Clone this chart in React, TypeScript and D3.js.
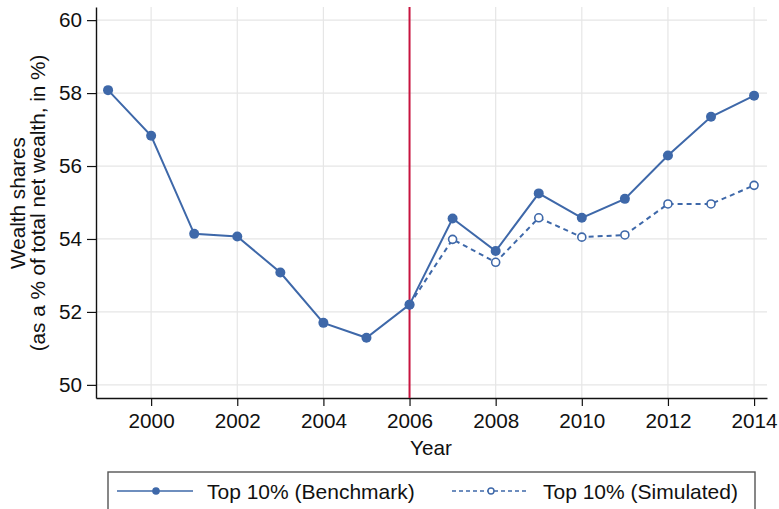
import React, { useEffect, useRef } from 'react';
import * as d3 from 'd3';

const years = [1999, 2000, 2001, 2002, 2003, 2004, 2005, 2006, 2007, 2008, 2009, 2010, 2011, 2012, 2013, 2014];
const benchmark = [58.08, 56.83, 54.14, 54.07, 53.08, 51.7, 51.29, 52.2, 54.56, 53.67, 55.25, 54.58, 55.1, 56.29, 57.35, 57.93];
const simYears = [2006, 2007, 2008, 2009, 2010, 2011, 2012, 2013, 2014];
const simulated = [52.2, 53.99, 53.36, 54.58, 54.05, 54.11, 54.96, 54.96, 55.47];
const xTicks = [2000, 2002, 2004, 2006, 2008, 2010, 2012, 2014];
const yTicks = [50, 52, 54, 56, 58, 60];
const breakYear = 2006;
const legendLabels = ['Top 10% (Benchmark)', 'Top 10% (Simulated)'];

const W = 779;
const H = 509;
const FONT = '"Liberation Sans", Arial, Helvetica, sans-serif';
const FS = 20.7;
const BLUE = '#3e68a9';
const RED = '#c8143f';

const App: React.FC = () => {
  const svgRef = useRef<SVGSVGElement | null>(null);

  useEffect(() => {
    const svg = d3.select(svgRef.current);
    svg.selectAll('*').remove();

    const margin = { top: 7, right: 12, bottom: 111, left: 96 };
    const x = d3.scaleLinear().domain([1998.72, 2014.3]).range([margin.left, W - margin.right]);
    const y = d3.scaleLinear().domain([49.64, 60.36]).range([H - margin.bottom, margin.top]);

    // grid
    const grid = svg.append('g');
    grid
      .selectAll('line.h')
      .data(yTicks)
      .join('line')
      .attr('x1', margin.left)
      .attr('x2', W - margin.right)
      .attr('y1', (d) => y(d))
      .attr('y2', (d) => y(d))
      .attr('stroke', '#e6e6e6')
      .attr('stroke-width', 1.2);
    grid
      .selectAll('line.v')
      .data(xTicks)
      .join('line')
      .attr('x1', (d) => x(d))
      .attr('x2', (d) => x(d))
      .attr('y1', margin.top)
      .attr('y2', H - margin.bottom)
      .attr('stroke', '#e6e6e6')
      .attr('stroke-width', 1.2);

    // axes
    const xAxis = d3.axisBottom(x).tickValues(xTicks).tickFormat(d3.format('d')).tickSize(8).tickSizeOuter(0).tickPadding(7);
    const yAxis = d3.axisLeft(y).tickValues(yTicks).tickSize(9).tickSizeOuter(0).tickPadding(5);

    const gx = svg.append('g').attr('transform', `translate(0, ${H - margin.bottom})`).call(xAxis);
    const gy = svg.append('g').attr('transform', `translate(${margin.left}, 0)`).call(yAxis);
    [gx, gy].forEach((g) => {
      g.selectAll('text').attr('font-family', FONT).attr('font-size', FS).attr('fill', '#111');
      g.selectAll('line').attr('stroke', '#111').attr('stroke-width', 1.2);
      g.select('.domain').attr('stroke', '#111').attr('stroke-width', 1.4);
    });

    // axis titles
    svg
      .append('text')
      .attr('x', 431)
      .attr('y', 455)
      .attr('text-anchor', 'middle')
      .attr('font-family', FONT)
      .attr('font-size', FS)
      .attr('fill', '#111')
      .text('Year');
    const yTitle = svg.append('g').attr('font-family', FONT).attr('font-size', FS).attr('fill', '#111');
    yTitle
      .append('text')
      .attr('transform', 'translate(25, 203) rotate(-90)')
      .attr('text-anchor', 'middle')
      .text('Wealth shares');
    yTitle
      .append('text')
      .attr('transform', 'translate(45, 203) rotate(-90)')
      .attr('text-anchor', 'middle')
      .text('(as a % of total net wealth, in %)');

    // vertical red line
    svg
      .append('line')
      .attr('x1', x(breakYear))
      .attr('x2', x(breakYear))
      .attr('y1', margin.top)
      .attr('y2', H - margin.bottom)
      .attr('stroke', RED)
      .attr('stroke-width', 2);

    // simulated series
    const simLine = d3
      .line<number>()
      .x((d, i) => x(simYears[i]))
      .y((d) => y(d));
    svg
      .append('path')
      .attr('d', simLine(simulated))
      .attr('fill', 'none')
      .attr('stroke', BLUE)
      .attr('stroke-width', 2)
      .attr('stroke-dasharray', '5,4');
    svg
      .selectAll('circle.sim')
      .data(simulated)
      .join('circle')
      .attr('class', 'sim')
      .attr('cx', (d, i) => x(simYears[i]))
      .attr('cy', (d) => y(d))
      .attr('r', 4)
      .attr('fill', 'white')
      .attr('stroke', BLUE)
      .attr('stroke-width', 1.6);

    // benchmark series
    const benchLine = d3
      .line<number>()
      .x((d, i) => x(years[i]))
      .y((d) => y(d));
    svg
      .append('path')
      .attr('d', benchLine(benchmark))
      .attr('fill', 'none')
      .attr('stroke', BLUE)
      .attr('stroke-width', 2);
    svg
      .selectAll('circle.bench')
      .data(benchmark)
      .join('circle')
      .attr('class', 'bench')
      .attr('cx', (d, i) => x(years[i]))
      .attr('cy', (d) => y(d))
      .attr('r', 5)
      .attr('fill', BLUE);

    // legend
    const lg = svg.append('g');
    lg.append('rect')
      .attr('x', 108)
      .attr('y', 472)
      .attr('width', 647)
      .attr('height', 60)
      .attr('fill', 'white')
      .attr('stroke', '#555')
      .attr('stroke-width', 1.4);
    const items = [
      { x0: 117, tx: 207, dashed: false },
      { x0: 452, tx: 543, dashed: true },
    ];
    items.forEach((it, i) => {
      const ly = 491;
      lg.append('line')
        .attr('x1', it.x0)
        .attr('x2', it.x0 + 76)
        .attr('y1', ly)
        .attr('y2', ly)
        .attr('stroke', BLUE)
        .attr('stroke-width', 1.6)
        .attr('stroke-dasharray', it.dashed ? '4,3' : null);
      lg.append('circle')
        .attr('cx', it.x0 + 39)
        .attr('cy', ly)
        .attr('r', it.dashed ? 3 : 3.8)
        .attr('fill', it.dashed ? 'white' : BLUE)
        .attr('stroke', it.dashed ? BLUE : 'none')
        .attr('stroke-width', 1.4);
      lg.append('text')
        .attr('x', it.tx)
        .attr('y', 499)
        .attr('font-family', FONT)
        .attr('font-size', 21)
        .attr('fill', '#111')
        .text(legendLabels[i]);
    });
  }, []);

  return (
    <svg
      ref={svgRef}
      width={W}
      height={H}
      style={{ position: 'absolute', left: 0, top: 0, background: 'white' }}
    />
  );
};

export default App;
